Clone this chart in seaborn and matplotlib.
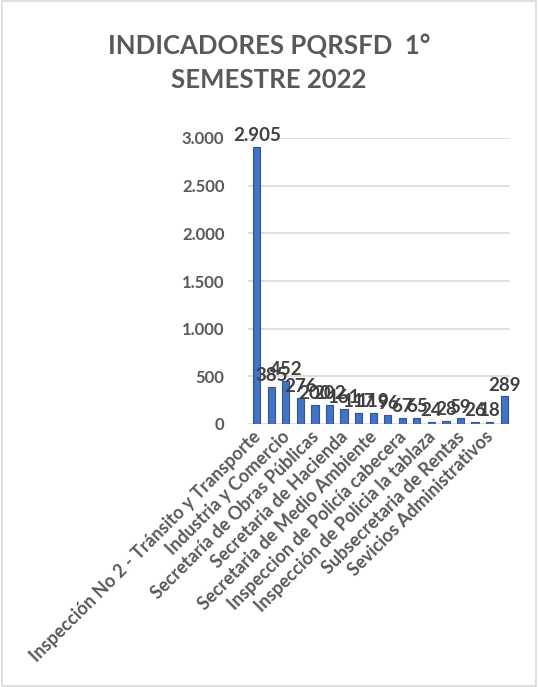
import matplotlib
matplotlib.use("Agg")
import matplotlib.pyplot as plt
import matplotlib.transforms as mtransforms
import seaborn as sns
import pandas as pd
from matplotlib.patches import Rectangle

# Data
categories = [f"C{i+1}" for i in range(18)]
values = [2905, 385, 452, 276, 200, 202, 161, 117, 119, 96, 67, 65, 24, 28, 59, 26, 18, 289]
tick_labels = [
    "Inspección No 2 - Tránsito y Transporte",
    "Industria y Comercio",
    "Secretaría de Obras Públicas",
    "Secretaria de Hacienda",
    "Secretaria de Medio Ambiente",
    "Inspeccion de Policía cabecera",
    "Inspección de Policia la tablaza",
    "Subsecretaria de Rentas",
    "Sevicios Administrativos",
]
yticks = [0, 500, 1000, 1500, 2000, 2500, 3000]
title = "INDICADORES PQRSFD  1°\nSEMESTRE 2022"

sns.set_theme(style="white")
plt.rcParams["font.family"] = ["Lato", "DejaVu Sans"]

def fmt(v):
    return f"{v:,}".replace(",", ".")

df = pd.DataFrame({"cat": categories, "val": values})

fig = plt.figure(figsize=(5.38, 6.87), dpi=100)
ax = fig.add_axes([248/538, 1-424/687, (510-248)/538, (424-138)/687])

sns.barplot(data=df, x="cat", y="val", ax=ax, color="#4472C4", width=0.5,
            edgecolor="#2F5597", linewidth=0.8, saturation=1)

ax.set_ylim(0, 3000)
ax.set_xlim(-0.6, 17.4)
ax.set_yticks(yticks)
ax.set_yticklabels([fmt(v) for v in yticks], fontsize=12, fontweight="bold", color="#595959")
ax.yaxis.grid(True, color="#D9D9D9", linewidth=1.2)
ax.set_axisbelow(True)
for s in ax.spines.values():
    s.set_visible(False)
ax.tick_params(axis="y", length=0, pad=17)
ax.set_xlabel("")
ax.set_ylabel("")

ax.set_xticks(range(0, 18, 2))
ax.set_xticklabels(tick_labels, rotation=45, ha="right", rotation_mode="anchor",
                   fontsize=13, fontweight="bold", color="#595959")
ax.tick_params(axis="x", length=0, pad=3)
offset = mtransforms.ScaledTranslation(-5/100, 0, fig.dpi_scale_trans)
for lab in ax.get_xticklabels():
    lab.set_transform(lab.get_transform() + offset)

for i, v in enumerate(values):
    ax.text(i, v + 30, fmt(v), ha="center", va="bottom", fontsize=13.5,
            fontweight="bold", color="#404040", clip_on=False)

fig.text(0.5, 1-63/687, title, ha="center", va="center", fontsize=18.5,
         fontweight="bold", color="#595959", linespacing=1.45)

fig.patches.append(Rectangle((0.004, 0.002), 0.992, 0.996, transform=fig.transFigure,
                             fill=False, edgecolor="#D9D9D9", linewidth=1.2))

fig.savefig("out.png", dpi=100)
